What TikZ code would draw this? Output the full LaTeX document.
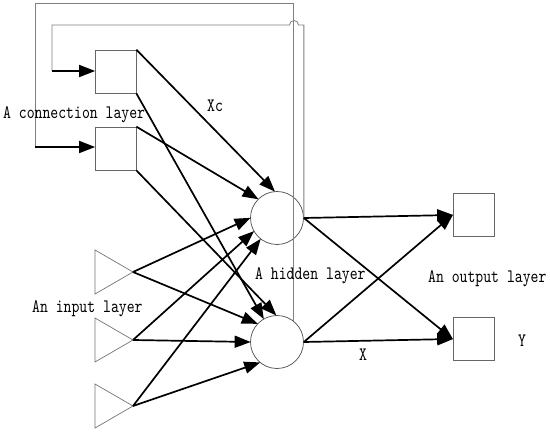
\documentclass[tikz,border=0pt]{standalone}
\usepackage{fontspec}
\newfontfamily\lbl[FakeStretch=0.79]{lmmono10-regular.otf}
\usetikzlibrary{arrows.meta}
\tikzset{
  unit/.style={draw=black!60, line width=0.7pt, minimum width=41pt, minimum height=43pt, inner sep=0pt},
  neuron/.style={circle, draw=black!70, line width=0.7pt, minimum size=53pt, inner sep=0pt},
  tri/.style={draw=black!55, line width=0.7pt},
  loopline/.style={draw=black!50, line width=0.8pt},
  arr/.style={draw=black, line width=1.7pt, -{Triangle[length=16pt,width=12pt]}, shorten >=-0.5pt},
  txt/.style={font=\lbl\fontsize{19}{21}\selectfont, inner sep=0pt, anchor=base west}
}
\begin{document}
\begin{tikzpicture}[x=1pt,y=-1pt]
\useasboundingbox (0,0) rectangle (550,433);
% context units
\node[unit] (c1) at (115.5,71.5) {};
\node[unit] (c2) at (115.5,148.5) {};
% hidden
\node[neuron] (h1) at (277,218) {};
\node[neuron] (h2) at (277,342) {};
% outputs
\node[unit] (o1) at (473.5,215) {};
\node[unit] (o2) at (473.5,339) {};
% inputs (triangles)
\coordinate (i1) at (133,272);
\coordinate (i2) at (133,340);
\coordinate (i3) at (133,406);
\draw[tri] (95,250) -- (i1) -- (95,294) -- cycle;
\draw[tri] (95,318) -- (i2) -- (95,362) -- cycle;
\draw[tri] (95,384) -- (i3) -- (95,428) -- cycle;
% feedback loops
\coordinate (t1) at (35,3);
\coordinate (k2) at (35,147);
\coordinate (t2) at (52,25);
\coordinate (k1) at (52,71);
\coordinate (hop) at (298.5,25);
\draw[loopline] (h2.51) |- (t1) -- (k2);
\draw[loopline] (h1.east) -- (h1.east |- hop) -- (hop)
  arc[start angle=0,end angle=180,radius=4.5pt] -- (t2) -- (k1);
\draw[arr] (k1) -- (k1 -| c1.west);
\draw[arr] (k2) -- (k2 -| c2.west);
% context -> hidden
\draw[arr] (c1.north east) -- (h1.95);
\draw[arr] (c1.south east) -- (h2.120);
\draw[arr] (c2.north east) -- (h1.135);
\draw[arr] (c2.south east) -- (h2.92);
% input -> hidden
\draw[arr] (i1) -- (h1.west);
\draw[arr] (i1) -- (h2.137);
\draw[arr] (i2) -- (h1.210);
\draw[arr] (i2) -- (h2.west);
\draw[arr] (i3) -- (h1.232);
\draw[arr] (i3) -- (h2.230);
% hidden -> output
\draw[arr] (h1.east) -- (o1.west);
\draw[arr] (h1.east) -- (o2.west);
\draw[arr] (h2.east) -- (o1.west);
\draw[arr] (h2.east) -- (o2.west);
% labels
\node[txt] (lxc) at (207,112) {Xc};
\node[txt] (lcon) at (3,119) {A connection layer};
\node[txt] (lhid) at (255,280) {A hidden layer};
\node[txt] (linp) at (32,313) {An input layer};
\node[txt] (lout) at (428,283) {An output layer};
\node[txt] (ly) at (518,347) {Y};
\node[txt] (lx) at (359,361) {X};
\end{tikzpicture}
\end{document}
